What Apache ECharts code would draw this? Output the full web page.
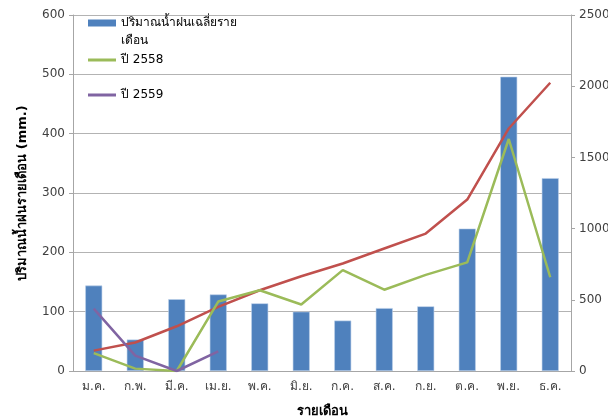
<!DOCTYPE html>
<html>
<head>
<meta charset="utf-8">
<script src="https://cdn.jsdelivr.net/npm/echarts@6/dist/echarts.min.js"></script>
<style>
html, body { margin: 0; padding: 0; background: #fff; }
#chart { width: 608px; height: 417px; }
</style>
</head>
<body>
<div id="chart"></div>
<script>
var months = ['ม.ค.', 'ก.พ.', 'มี.ค.', 'เม.ย.', 'พ.ค.', 'มิ.ย.', 'ก.ค.', 'ส.ค.', 'ก.ย.', 'ต.ค.', 'พ.ย.', 'ธ.ค.'];
var avgRain = [144, 53, 121, 129, 114, 100, 85, 106, 109, 240, 496, 325];
var cumRain = [143, 200, 314, 450, 567, 665, 755, 860, 965, 1204, 1703, 2024];
var rain2558 = [30, 4, 0, 117, 136, 112, 170, 137, 162, 183, 391, 158];
var rain2559 = [105, 26, 0, 33];

var nameAvg = 'ปริมาณน้ำฝนเฉลี่ยรายเดือน';
var name2558 = 'ปี 2558';
var name2559 = 'ปี 2559';
var nameCum = 'สะสม';

var font = 'Tahoma, "DejaVu Sans", sans-serif';

var dom = document.getElementById('chart');
var myChart = echarts.init(dom, null, { renderer: 'canvas' });

var legendText = { fontFamily: font, fontSize: 12, color: '#000' };

var option = {
    animation: false,
    backgroundColor: '#ffffff',
    textStyle: { fontFamily: font },
    grid: { left: 73, right: 37, top: 15, bottom: 46, containLabel: false, outerBoundsMode: 'none' },
    legend: [
        {
            data: [{ name: nameAvg, icon: 'rect', itemStyle: { borderWidth: 0 } }],
            left: 88, top: -4, padding: 0,
            itemWidth: 28, itemHeight: 7,
            formatter: function () { return ' \nปริมาณน้ำฝนเฉลี่ยราย\nเดือน'; },
            textStyle: Object.assign({ lineHeight: 18 }, legendText)
        },
        {
            data: [{ name: name2558, icon: 'rect' }],
            left: 88, top: 54, padding: 0,
            itemWidth: 28, itemHeight: 3,
            textStyle: legendText
        },
        {
            data: [{ name: name2559, icon: 'rect' }],
            left: 88, top: 89, padding: 0,
            itemWidth: 28, itemHeight: 3,
            textStyle: legendText
        }
    ],
    xAxis: {
        type: 'category',
        data: months,
        name: 'รายเดือน',
        nameLocation: 'middle',
        nameGap: 34,
        nameTextStyle: { fontWeight: 'bold', fontSize: 13, color: '#000', fontFamily: font },
        axisLine: { lineStyle: { color: '#a6a6a6' } },
        axisTick: { show: false },
        axisLabel: { color: '#404040', fontSize: 12, margin: 10, fontFamily: font }
    },
    yAxis: [
        {
            type: 'value',
            min: 0, max: 600, interval: 100,
            name: 'ปริมาณน้ำฝนรายเดือน (mm.)',
            nameLocation: 'middle',
            nameGap: 44,
            nameTextStyle: { fontWeight: 'bold', fontSize: 13, color: '#000', fontFamily: font },
            axisLine: { show: true, lineStyle: { color: '#a6a6a6' } },
            axisTick: { show: true, length: 4, lineStyle: { color: '#a6a6a6' } },
            axisLabel: { color: '#404040', fontSize: 12, margin: 8 },
            splitLine: { lineStyle: { color: '#b3b3b3' } }
        },
        {
            type: 'value',
            min: 0, max: 2500, interval: 500,
            position: 'right',
            axisLine: { show: true, lineStyle: { color: '#a6a6a6' } },
            axisTick: { show: true, length: 4, lineStyle: { color: '#a6a6a6' } },
            axisLabel: { color: '#404040', fontSize: 12, margin: 8, formatter: function (v) { return String(v); } },
            splitLine: { show: false }
        }
    ],
    series: [
        {
            name: nameAvg,
            type: 'bar',
            data: avgRain,
            barWidth: 17,
            itemStyle: { color: '#4f81bd', borderColor: '#bcd0ea', borderWidth: 0.6 }
        },
        {
            name: nameCum,
            type: 'line',
            yAxisIndex: 1,
            data: cumRain,
            symbol: 'none',
            lineStyle: { color: '#c0504d', width: 2.5 },
            itemStyle: { color: '#c0504d' }
        },
        {
            name: name2558,
            type: 'line',
            data: rain2558,
            symbol: 'none',
            lineStyle: { color: '#9bbb59', width: 2.5 },
            itemStyle: { color: '#9bbb59' }
        },
        {
            name: name2559,
            type: 'line',
            data: rain2559,
            symbol: 'none',
            lineStyle: { color: '#8064a2', width: 2.5 },
            itemStyle: { color: '#8064a2' }
        }
    ]
};

if (option && typeof option === 'object') {
    myChart.setOption(option, true);
}
</script>
</body>
</html>
